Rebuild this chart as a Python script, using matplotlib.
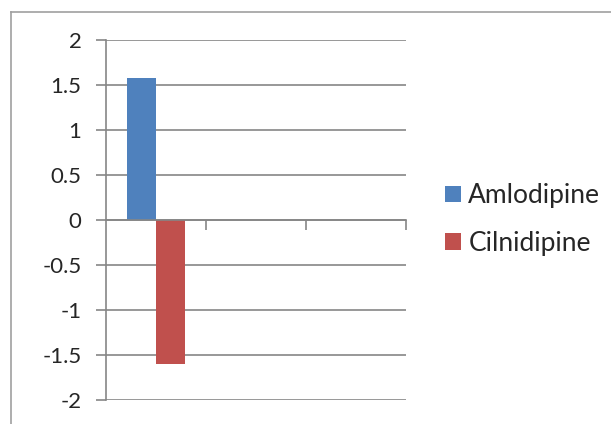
import numpy as np
import matplotlib
matplotlib.use('Agg')
import matplotlib.pyplot as plt
from matplotlib.lines import Line2D

# one filled category, two empty ones (as in the sheet)
categories = ['', '', '']
amlodipine = [1.58, np.nan, np.nan]
cilnidipine = [-1.6, np.nan, np.nan]

plt.rcParams['font.family'] = ['Lato', 'DejaVu Sans']
grid_col = '#868686'
text_col = '#262626'

W, H = 611, 424
fig = plt.figure(figsize=(W / 100, H / 100), dpi=100)
ax = fig.add_axes([106 / W, (H - 400) / H, 300 / W, 360 / H])

x = np.arange(len(categories))
bw = 0.286
ax.bar(x - bw / 2, amlodipine, bw, color='#4F81BD', label='Amlodipine', zorder=3)
ax.bar(x + bw / 2, cilnidipine, bw, color='#C0504D', label='Cilnidipine', zorder=3)

ax.set_xlim(-0.5, len(categories) - 0.5)
ax.set_ylim(-2, 2)
ax.set_yticks(np.arange(-2, 2.01, 0.5))
ax.set_yticklabels(['-2', '-1.5', '-1', '-0.5', '0', '0.5', '1', '1.5', '2'])
ax.yaxis.grid(True, color=grid_col, linewidth=1.2, zorder=0)
ax.tick_params(axis='y', length=7.2, width=1.2, color=grid_col, labelsize=16,
               labelcolor=text_col, pad=10.5)

# category axis sits at zero, ticks between categories
ax.spines['bottom'].set_position(('data', 0))
ax.spines['bottom'].set_color(grid_col)
ax.spines['bottom'].set_linewidth(1.2)
ax.spines['bottom'].set_zorder(4)
ax.spines['left'].set_color(grid_col)
ax.spines['left'].set_linewidth(1.2)
ax.spines['top'].set_visible(False)
ax.spines['right'].set_visible(False)
ax.set_xticks(x + 0.5)
ax.set_xticklabels([])
ax.tick_params(axis='x', direction='out', length=7.2, width=1.2, color=grid_col)

fig.legend(loc='center left', bbox_to_anchor=(432 / W, (H - 219.5) / H),
           frameon=False, fontsize=19, handlelength=0.58, handleheight=0.58,
           handletextpad=0.3, labelspacing=0.85, borderpad=0,
           labelcolor=text_col)

# chart area border (only top and left visible)
fig.add_artist(Line2D([11 / W, 1], [(H - 12) / H] * 2, color='#a0a0a0', lw=1.2,
                      transform=fig.transFigure))
fig.add_artist(Line2D([11 / W] * 2, [0, (H - 12) / H], color='#a0a0a0', lw=1.2,
                      transform=fig.transFigure))

fig.savefig('out.png', dpi=100)
plt.close(fig)
